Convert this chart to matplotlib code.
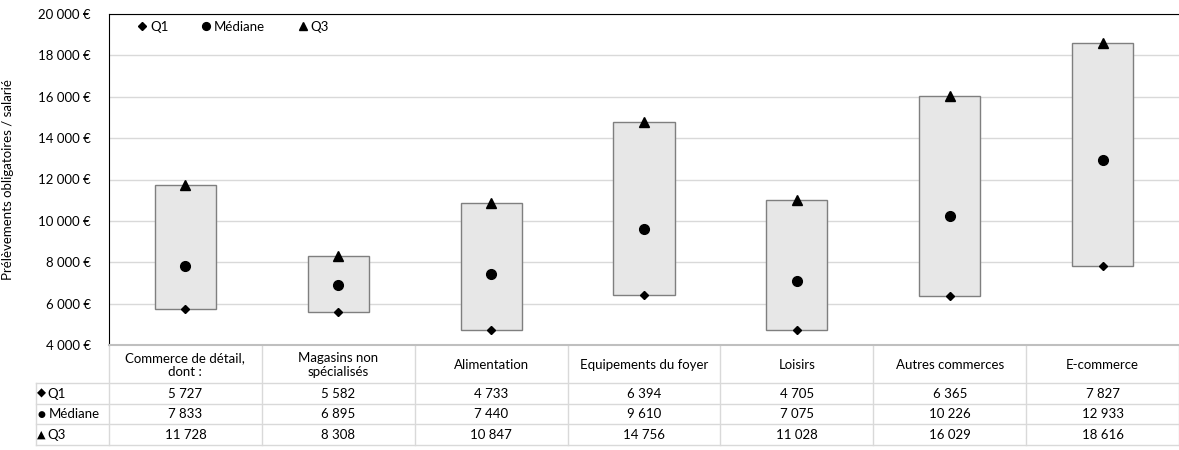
import matplotlib
matplotlib.use("Agg")
import matplotlib.pyplot as plt
from matplotlib.patches import Rectangle
from matplotlib.lines import Line2D
from matplotlib.ticker import FuncFormatter, MultipleLocator

plt.rcParams['font.family'] = ['Lato', 'DejaVu Sans']

categories = ["Commerce de détail,\ndont :", "Magasins non\nspécialisés", "Alimentation",
              "Equipements du foyer", "Loisirs", "Autres commerces", "E-commerce"]
q1 = [5727, 5582, 4733, 6394, 4705, 6365, 7827]
mediane = [7833, 6895, 7440, 9610, 7075, 10226, 12933]
q3 = [11728, 8308, 10847, 14756, 11028, 16029, 18616]
row_names = ["Q1", "Médiane", "Q3"]
row_symbols = ["◆", "●", "▲"]


def fr(v):
    return f"{int(round(v)):,}".replace(",", " ")


FS = 9.5
W, H = 1179, 450
fig = plt.figure(figsize=(W / 100, H / 100), dpi=100)
ax = fig.add_axes([109 / W, 1 - 345 / H, 1 - 109 / W, (345 - 14) / H])

n = len(categories)
ax.set_xlim(-0.5, n - 0.5)
ax.set_ylim(4000, 20000)
ax.yaxis.set_major_locator(MultipleLocator(2000))
ax.yaxis.set_major_formatter(FuncFormatter(lambda v, p: fr(v) + " €"))
ax.tick_params(axis='y', length=0, labelsize=FS, pad=13)
ax.set_xticks([])
ax.grid(axis='y', color='#d9d9d9', linewidth=1)
ax.set_axisbelow(True)

ax.spines['right'].set_visible(False)
ax.spines['left'].set_color('black')
ax.spines['top'].set_color('black')
ax.spines['bottom'].set_color('#bfbfbf')
ax.spines['bottom'].set_linewidth(1.5)

bw = 0.4
for i in range(n):
    ax.add_patch(Rectangle((i - bw / 2, q1[i]), bw, q3[i] - q1[i],
                           facecolor='#e7e7e7', edgecolor='#7f7f7f', linewidth=1, zorder=2))
xs = list(range(n))
ax.plot(xs, q1, linestyle='none', marker='D', markersize=4.5, color='black', zorder=3, label='Q1')
ax.plot(xs, mediane, linestyle='none', marker='o', markersize=7, color='black', zorder=3, label='Médiane')
ax.plot(xs, q3, linestyle='none', marker='^', markersize=6.5, color='black', zorder=3, label='Q3')

ax.legend(loc='upper left', ncol=3, frameon=False, fontsize=FS, handlelength=0.5,
          handletextpad=0.35, columnspacing=2.6, markerscale=0.8,
          bbox_to_anchor=(0.017, 1.015))

ax.set_ylabel("Prélèvements obligatoires / salarié", fontsize=FS)
ax.yaxis.set_label_coords((14 - 109) / 1070.0, 0.5)

# data table below the plot area
axh = 331.0


def yfrac(py):
    return -(py - 345) / axh


def xfrac(px):
    return (px - 109) / 1070.0


xl = xfrac(36)
row_y = [383, 404, 424, 445]
lc = '#d9d9d9'
tr = ax.transAxes
lines = []
for py in row_y:
    lines.append(([xl, 1.0], [yfrac(py), yfrac(py)]))
lines.append(([xl, xl], [yfrac(383), yfrac(445)]))
for k in range(n + 1):
    xf = k / n
    lines.append(([xf, xf], [yfrac(345), yfrac(445)]))
for xx, yy in lines:
    ax.add_line(Line2D(xx, yy, transform=tr, color=lc, linewidth=1, clip_on=False))

for i, c in enumerate(categories):
    ax.text((i + 0.5) / n, (yfrac(345) + yfrac(383)) / 2 - 0.003, c, transform=tr,
            ha='center', va='center', fontsize=FS, linespacing=1.25)

series = [q1, mediane, q3]
sym_sizes = [8.5, 6.5, 8]
name_x = [47, 48.5, 47]
for r, (name, sym, vals) in enumerate(zip(row_names, row_symbols, series)):
    yc = (yfrac(row_y[r]) + yfrac(row_y[r + 1])) / 2
    ax.text(xfrac(41), yc, sym, transform=tr, ha='center', va='center',
            fontsize=sym_sizes[r], family='DejaVu Sans')
    ax.text(xfrac(name_x[r]), yc, name, transform=tr, ha='left', va='center', fontsize=FS)
    for i, v in enumerate(vals):
        ax.text((i + 0.5) / n, yc, fr(v), transform=tr, ha='center', va='center', fontsize=FS)

fig.savefig("out.png", dpi=100)
